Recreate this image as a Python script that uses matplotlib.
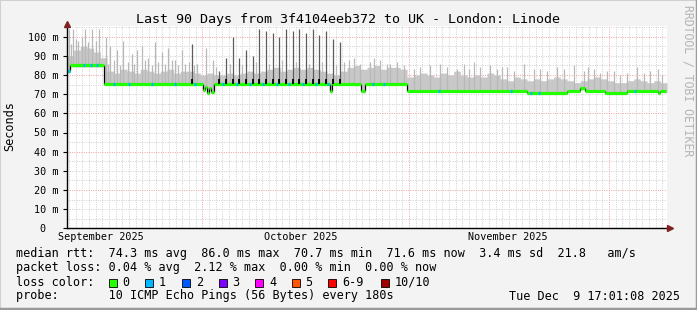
import datetime as dt
import matplotlib
matplotlib.use("Agg")
import matplotlib.pyplot as plt
from matplotlib.patches import Rectangle
from matplotlib.lines import Line2D
import numpy as np

# --- dados (eixo x = dias desde o início) ---
inicio = dt.datetime(2025, 9, 10, 17, 1, 8)
n_dias = 90
titulo = "Last 90 Days from 3f4104eeb372 to UK - London: Linode"
meses = ["September 2025", "October 2025", "November 2025"]
meses_pos = [5.1, 35.1, 66.1]

# topo da fumaça (um valor por dia, ms)
fumaca_topo = [90, 93, 95, 94, 92, 89,
               82, 81, 83, 82, 81, 83, 82, 81, 82, 83, 81, 82, 82, 81,
               80, 81, 80, 80, 81, 80, 81, 82, 81, 82, 83, 84, 82, 83, 84, 83,
               84, 83, 82, 81, 80, 82, 84, 85, 83, 84, 85, 83, 84, 84, 83,
               79, 80, 81, 80, 79, 81, 80, 82, 80, 79, 80, 79, 81, 80, 78, 77,
               79, 78, 77, 78, 77, 78, 79, 78, 77, 76, 77, 78, 79, 78, 77, 76,
               76, 77, 78, 77, 76, 77, 76]

# mediana em degraus (dia de início, valor)
mediana_dia = [0, 0.4, 5.5, 20.4, 20.7, 21.0, 21.3, 21.6, 22.0, 39.4, 39.8,
               44.1, 44.7, 51.0, 69.0, 75.0, 77.0, 77.7, 80.7, 84.0, 88.65, 88.95]
mediana_val = [82, 85, 75.3, 72, 74, 70.5, 73, 71, 75.3, 71.5, 75.3,
               71.5, 75.3, 71.8, 70.6, 71.8, 73.1, 71.8, 70.6, 71.8, 70.5, 71.6]

# picos claros (dia, topo)
pico_claro_dia = [0.3, 0.6, 0.9, 1.3, 1.7, 2.2, 2.7, 3.2, 3.75, 4.3, 4.8,
                  5.85, 6.2, 6.45, 7.1, 7.5, 8.0, 8.4, 9.1, 9.7, 10.0, 10.5,
                  11.2, 11.7, 12.2, 12.7, 13.2, 13.7, 14.2, 14.7, 15.2, 15.7,
                  16.2, 16.7, 17.2, 17.7, 18.3, 19.1, 19.5, 20.9, 21.9,
                  22.3, 24.4, 26.3, 28.3, 30.3, 32.3, 34.3, 36.3, 38.3, 40.3,
                  41.5, 42.3, 43.0, 44.0, 45.5, 46.0, 47.0, 48.0, 48.5, 49.5, 50.5,
                  52.0, 53.0, 54.5, 56.0, 57.0, 58.5, 59.5, 60.3, 61.0, 62.0,
                  63.5, 64.5, 65.2, 66.0, 67.0, 68.5, 70.0, 71.0, 72.0, 73.5,
                  74.5, 76.0, 77.5, 78.2, 79.0, 80.0, 81.0, 82.0, 83.0, 84.0,
                  85.5, 86.5, 87.5, 88.7, 89.3]
pico_claro_val = [104, 96, 104, 99, 98, 100, 104, 97, 104, 98, 104,
                  100, 86, 95, 88, 93, 85, 98, 87, 91, 86, 93,
                  95, 88, 89, 85, 97, 87, 92, 86, 94, 88,
                  88, 85, 93, 86, 87, 85, 86, 94, 88,
                  84, 86, 85, 87, 86, 88, 87, 86, 87, 85,
                  87, 88, 89, 86, 87, 89, 88, 86, 86, 87, 85,
                  83, 84, 85, 86, 84, 83, 86, 83, 87, 84,
                  85, 83, 84, 84, 82, 86, 83, 83, 82, 84,
                  83, 85, 82, 84, 83, 81, 82, 82, 80, 81,
                  84, 81, 82, 83, 80]

# picos escuros (dia, topo)
pico_escuro_dia = [18.8, 22.8, 23.85, 24.9, 25.8, 26.85, 27.9, 28.8, 29.85, 30.9,
                   31.8, 32.85, 33.9, 34.8, 35.85, 36.9, 37.8, 38.85, 39.9, 40.95]
pico_escuro_val = [96, 82, 89, 100, 89, 93, 90, 104, 103, 102,
                   100, 104, 103, 104, 102, 104, 101, 103, 99, 97]

# momentos com perda 1/10
perda1_dia = [0.1, 2.4, 3.5, 4.4, 6.9, 9.2, 12.6, 16.0, 19.0, 23.2, 25.3, 27.3,
              29.2, 31.3, 33.2, 35.3, 37.2, 39.0, 45.7, 47.4, 55.6, 66.4, 69.4,
              70.6, 85.0]

linha_mediana = "median rtt:  74.3 ms avg  86.0 ms max  70.7 ms min  71.6 ms now  3.4 ms sd  21.8   am/s"
linha_perda = "packet loss: 0.04 % avg  2.12 % max  0.00 % min  0.00 % now"
linha_sonda = "probe:       10 ICMP Echo Pings (56 Bytes) every 180s"
data_txt = "Tue Dec  9 17:01:08 2025"
perda_rotulos = ["0", "1", "2", "3", "4", "5", "6-9", "10/10"]
perda_cores = ["#26ff00", "#00b8ff", "#0059ff", "#7e00ff", "#ff00ff", "#ff5500", "#ff0000", "#a10000"]

MONO = "DejaVu Sans Mono"
W, H = 697, 310


def fy(py):
    return 1 - py / H


def degrau(bordas, vals, x):
    idx = np.searchsorted(bordas, x, side="right") - 1
    return np.asarray(vals, dtype=float)[np.clip(idx, 0, len(vals) - 1)]


fig = plt.figure(figsize=(W / 100, H / 100), dpi=100)
fig.patch.set_facecolor("#f3f3f3")

y0, y1 = 228.3, 26
ax = fig.add_axes([67 / W, 1 - y0 / H, 600 / W, (y0 - y1) / H])
ax.set_facecolor("white")
ax.set_xlim(0, n_dias)
ymax = (y0 - y1) / 1.916
ax.set_ylim(0, ymax)
for s in ax.spines.values():
    s.set_visible(False)

# grade
pontilhado = (0, (1, 1.4))
meia_noite = (inicio + dt.timedelta(days=1)).replace(hour=0, minute=0, second=0)
d = meia_noite
while d < inicio + dt.timedelta(days=n_dias):
    off = (d - inicio).total_seconds() / 86400
    cor = "#f0a0a0" if d.day == 1 else "#cfcfcf"
    ax.axvline(off, color=cor, lw=0.7, ls=pontilhado, zorder=0)
    d += dt.timedelta(days=1)
for v in range(5, 106, 5):
    cor = "#f0a0a0" if v % 20 == 0 else "#cfcfcf"
    ax.axhline(v, color=cor, lw=0.7, ls=pontilhado, zorder=0)

# fumaça
gx = np.linspace(0, n_dias, 3601)
med_g = degrau(mediana_dia, mediana_val, gx)
topo_g = np.asarray(fumaca_topo, dtype=float)[np.clip(gx.astype(int), 0, n_dias - 1)]
ax.fill_between(gx, med_g - 0.8, np.maximum(topo_g, med_g), color="#c8c8c8", lw=0, step="post", zorder=1)

med_c = degrau(mediana_dia, mediana_val, pico_claro_dia)
ax.vlines(pico_claro_dia, med_c, pico_claro_val, color="#b8b8b8", lw=0.9, zorder=2)
med_e = degrau(mediana_dia, mediana_val, pico_escuro_dia)
ax.vlines(pico_escuro_dia, med_e, pico_escuro_val, color="#5c5c5c", lw=0.9, zorder=2)
ax.vlines(pico_escuro_dia, med_e, med_e + 2.8, color="black", lw=1.3, zorder=4)

# mediana
fins = mediana_dia[1:] + [89.85]
ax.vlines(mediana_dia[1:], mediana_val[:-1], mediana_val[1:], color="black", lw=0.9, zorder=3)
ax.hlines(mediana_val, mediana_dia, fins, color="#22ff00", lw=2.3, zorder=3)
med_p = degrau(mediana_dia, mediana_val, perda1_dia)
ax.hlines(med_p, perda1_dia, np.asarray(perda1_dia) + 0.3, color="#00b8ff", lw=2.3, zorder=4)

# eixos com setas
ax.plot([0, n_dias + 0.3], [0, 0], color="black", lw=1, clip_on=False, zorder=5)
ax.plot([0, 0], [0, ymax + 1], color="black", lw=1, clip_on=False, zorder=5)
ax.plot([n_dias + 0.45], [0], marker=">", color="#802020", ms=4, clip_on=False, zorder=6)
ax.plot([0], [ymax + 1.3], marker="^", color="#802020", ms=4, clip_on=False, zorder=6)

ax.set_yticks(range(0, 101, 10))
ax.set_yticklabels([f"{v} m" if v else "0  " for v in range(0, 101, 10)], family=MONO, fontsize=7.3)
ax.tick_params(axis="y", length=3, width=0.8, pad=3)
ax.set_xticks(meses_pos)
ax.set_xticklabels(meses, family=MONO, fontsize=7.3)
ax.tick_params(axis="x", length=0, pad=2.5)

# textos
fig.text(348.5 / W, fy(19), titulo, family=MONO, fontsize=9.6, ha="center", va="center")
fig.text(10 / W, fy(126), "Seconds", family=MONO, fontsize=8.6, rotation=90, ha="center", va="center")
fig.text(688 / W, fy(5), "RRDTOOL / TOBI OETIKER", family=MONO, fontsize=8.3, rotation=270,
         ha="center", va="top", color="#b4b4b4")

fig.text(16 / W, fy(254), linha_mediana, family=MONO, fontsize=8.5, va="center")
fig.text(16 / W, fy(268), linha_perda, family=MONO, fontsize=8.5, va="center")
fig.text(16 / W, fy(282), "loss color:", family=MONO, fontsize=8.5, va="center")
fig.text(16 / W, fy(296), linha_sonda, family=MONO, fontsize=8.5, va="center")
fig.text(680 / W, fy(296), data_txt, family=MONO, fontsize=8.5, va="center", ha="right")

texto_x = [122.5, 159, 196, 232.5, 269, 305.5, 342, 395]
for rot, cor, tx in zip(perda_rotulos, perda_cores, texto_x):
    fig.patches.append(Rectangle(((tx - 14) / W, fy(286.5)), 8 / W, 8 / H, transform=fig.transFigure,
                                 facecolor=cor, edgecolor="black", lw=0.6))
    fig.text(tx / W, fy(282), rot, family=MONO, fontsize=8.5, va="center")

# moldura
fig.add_artist(Line2D([0, 0, 1], [0, 1, 1], transform=fig.transFigure, color="#d0d0d0", lw=1.5))
fig.add_artist(Line2D([0, 1, 1], [0.004, 0.004, 1], transform=fig.transFigure, color="#9a9a9a", lw=2.5))

fig.savefig("out.png", dpi=100, facecolor=fig.get_facecolor())
